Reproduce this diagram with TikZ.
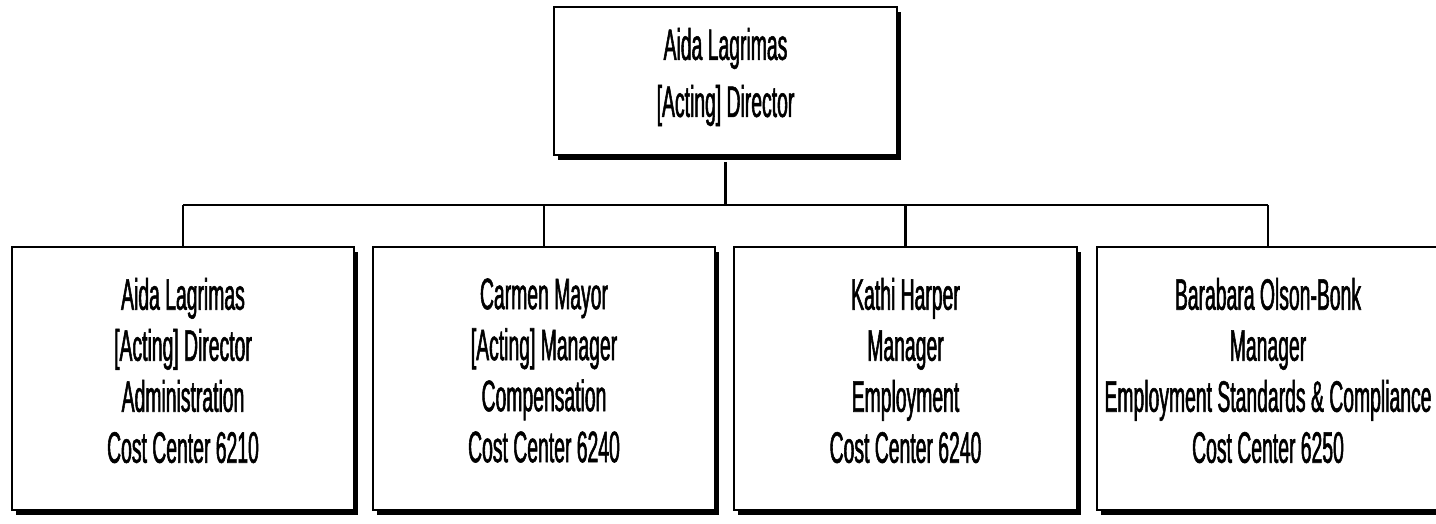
\documentclass[tikz,border=0pt]{standalone}
\usepackage{fontspec}
\newfontfamily\narrowfont[FakeStretch=0.44,FakeBold=1.2]{Liberation Sans}
\usetikzlibrary{shadows}
\tikzset{
  orgbox/.style={draw=black, line width=1.8pt, fill=white, rectangle, inner sep=0pt,
    drop shadow={shadow xshift=4pt, shadow yshift=-5pt, fill=black, opacity=1}},
  boxtext/.style={inner sep=0pt, align=center, font=\narrowfont\fontsize{44}{51}\selectfont},
  conn/.style={draw=black, line width=2.2pt}
}
\begin{document}
\begin{tikzpicture}[x=1pt,y=-1pt]
\useasboundingbox (0,0) rectangle (1436,523);
\clip (0,0) rectangle (1436,523);
\node[orgbox, minimum width=343pt, minimum height=148pt] (top) at (725.5,81) {};
\node[orgbox, minimum width=342pt, minimum height=263pt] (b1) at (183,378.5) {};
\node[orgbox, minimum width=342pt, minimum height=263pt] (b2) at (544,378.5) {};
\node[orgbox, minimum width=343pt, minimum height=263pt] (b3) at (905.5,378.5) {};
\node[orgbox, minimum width=342pt, minimum height=263pt] (b4) at (1268,378.5) {};
\node[boxtext, font=\narrowfont\fontsize{44}{57}\selectfont] (t0) at ([yshift=4pt]top.center)
  {Aida Lagrimas\\{[Acting]} Director};
\node[boxtext] (t1) at ([yshift=8pt]b1.center)
  {Aida Lagrimas\\{[Acting]} Director\\Administration\\Cost Center 6210};
\node[boxtext] (t2) at ([yshift=8pt]b2.center)
  {Carmen Mayor\\{[Acting]} Manager\\Compensation\\Cost Center 6240};
\node[boxtext] (t3) at ([yshift=8pt]b3.center)
  {Kathi Harper\\Manager\\Employment\\Cost Center 6240};
\node[boxtext] (t4) at ([yshift=8pt]b4.center)
  {Barabara Olson-Bonk\\Manager\\Employment Standards \& Compliance\\Cost Center 6250};
\coordinate (j1) at (183,205);
\coordinate (j2) at (544,205);
\coordinate (j3) at (905.5,205);
\coordinate (j4) at (1268,205);
\draw[conn] (top.south) ++(0,6) -- (top.south |- j1);
\draw[conn] (j1) -- (j4);
\draw[conn] (j1) -- (b1.north);
\draw[conn] (j2) -- (b2.north);
\draw[conn] (j3) -- (b3.north);
\draw[conn] (j4) -- (b4.north);
\end{tikzpicture}
\end{document}
